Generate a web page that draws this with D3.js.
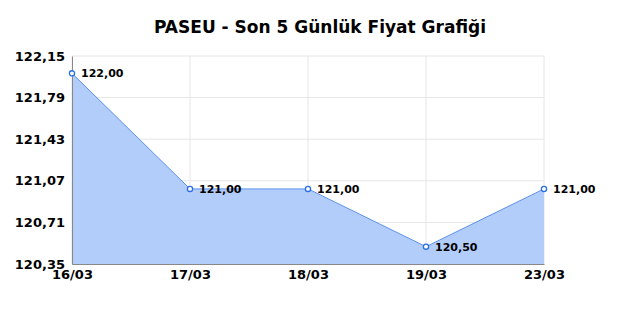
<!DOCTYPE html>
<html>
<head>
<meta charset="utf-8">
<script src="https://cdn.jsdelivr.net/npm/d3@7"></script>
<style>
  body { margin: 0; background: #fff; }
  text { font-family: "DejaVu Sans", sans-serif; }
</style>
</head>
<body>
<div id="chart-area"></div>
<script>
const dates = ['16/03', '17/03', '18/03', '19/03', '23/03']
const prices = [122.00, 121.00, 121.00, 120.50, 121.00]
const yTicks = [120.35, 120.71, 121.07, 121.43, 121.79, 122.15]

const margin = { top: 56, right: 96, bottom: 56, left: 72 }
const width = 640 - (margin.left + margin.right)
const height = 320 - (margin.top + margin.bottom)

const fmt = v => d3.format('.2f')(v).replace('.', ',')

const svg = d3.select('#chart-area').append('svg')
    .attr('width', 640)
    .attr('height', 320)

svg.append('text')
    .attr('x', 320)
    .attr('y', 33)
    .attr('text-anchor', 'middle')
    .attr('font-size', '17px')
    .attr('font-weight', 'bold')
    .attr('fill', '#000')
    .text('PASEU - Son 5 Günlük Fiyat Grafiği')

const g = svg.append('g')
    .attr('transform', `translate(${margin.left}, ${margin.top})`)

const xScale = d3.scalePoint()
    .domain(dates)
    .range([0, width])

const yScale = d3.scaleLinear()
    .domain([yTicks[0], yTicks[yTicks.length - 1]])
    .range([height, 0])

// grid
g.append('g')
    .selectAll('line')
    .data(yTicks)
    .enter().append('line')
    .attr('x1', 0).attr('x2', width)
    .attr('y1', d => yScale(d)).attr('y2', d => yScale(d))
    .attr('stroke', '#e6e6e6')
g.append('g')
    .selectAll('line')
    .data(dates)
    .enter().append('line')
    .attr('x1', d => xScale(d)).attr('x2', d => xScale(d))
    .attr('y1', 0).attr('y2', height)
    .attr('stroke', '#e6e6e6')

const data = dates.map((d, i) => ({ date: d, price: prices[i] }))

const area = d3.area()
    .x(d => xScale(d.date))
    .y0(height)
    .y1(d => yScale(d.price))

const line = d3.line()
    .x(d => xScale(d.date))
    .y(d => yScale(d.price))

g.append('path')
    .datum(data)
    .attr('d', area)
    .attr('fill', '#b3cdfa')

g.append('path')
    .datum(data)
    .attr('d', line)
    .attr('fill', 'none')
    .attr('stroke', '#3b7be8')
    .attr('stroke-width', 0.8)

// axes
const yAxisCall = d3.axisLeft(yScale).tickValues(yTicks).tickSize(0).tickPadding(7).tickFormat(fmt)
const yAxisGroup = g.append('g').call(yAxisCall)
yAxisGroup.select('.domain').attr('stroke', '#888')
yAxisGroup.selectAll('text')
    .attr('font-size', '13px')
    .attr('font-weight', 'bold')
    .attr('fill', '#000')
    .attr('font-family', '"DejaVu Sans", sans-serif')

const xAxisCall = d3.axisBottom(xScale).tickSize(0).tickPadding(6)
const xAxisGroup = g.append('g')
    .attr('transform', `translate(0, ${height})`)
    .call(xAxisCall)
xAxisGroup.select('.domain').attr('stroke', '#888')
xAxisGroup.selectAll('text')
    .attr('font-size', '13px')
    .attr('font-weight', 'bold')
    .attr('fill', '#000')
    .attr('font-family', '"DejaVu Sans", sans-serif')

// points and labels
g.selectAll('circle')
    .data(data)
    .enter().append('circle')
    .attr('cx', d => xScale(d.date))
    .attr('cy', d => yScale(d.price))
    .attr('r', 2.6)
    .attr('fill', '#fff')
    .attr('stroke', '#2a6ee8')
    .attr('stroke-width', 1.3)

g.selectAll('.val')
    .data(data)
    .enter().append('text')
    .attr('class', 'val')
    .attr('x', d => xScale(d.date) + 9)
    .attr('y', d => yScale(d.price) + 4)
    .attr('font-size', '11px')
    .attr('font-weight', 'bold')
    .attr('fill', '#000')
    .text(d => fmt(d.price))
</script>
</body>
</html>
